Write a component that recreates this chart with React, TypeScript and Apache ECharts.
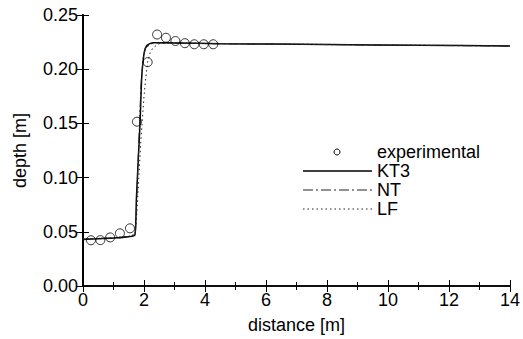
import React, { useEffect, useRef } from "react";
import * as echarts from "echarts";

const expX = [0.26, 0.57, 0.89, 1.21, 1.54, 1.77, 2.12, 2.43, 2.72, 3.03, 3.34, 3.65, 3.96, 4.27];
const expY = [0.0422, 0.0423, 0.0448, 0.0486, 0.0532, 0.1516, 0.2065, 0.232, 0.229, 0.226, 0.224, 0.223, 0.223, 0.223];

const kt3X = [0, 0.5, 1.0, 1.5, 1.7, 1.75, 1.8, 1.87, 1.92, 1.96, 2.02, 2.1, 2.3, 3, 4.5, 8, 11, 14];
const kt3Y = [0.043, 0.0435, 0.0442, 0.0455, 0.047, 0.08, 0.11, 0.15, 0.19, 0.205, 0.217, 0.222, 0.2245, 0.2242, 0.2235, 0.2228, 0.222, 0.2215];

const ntX = [0, 0.5, 1.0, 1.5, 1.72, 1.8, 1.9, 1.97, 2.05, 2.3, 3, 4.5, 8, 11, 14];
const ntY = [0.0432, 0.0437, 0.0444, 0.0457, 0.048, 0.11, 0.185, 0.21, 0.22, 0.2243, 0.2241, 0.2234, 0.2227, 0.2219, 0.2214];

const lfX = [0, 0.5, 1.0, 1.5, 1.7, 1.75, 1.8, 1.85, 1.9, 1.95, 2.0, 2.05, 2.12, 2.2, 2.3, 2.5, 3, 4.5, 8, 11, 14];
const lfY = [0.0434, 0.0439, 0.0446, 0.0459, 0.047, 0.06, 0.085, 0.11, 0.135, 0.155, 0.175, 0.19, 0.207, 0.215, 0.22, 0.2235, 0.2242, 0.2236, 0.2229, 0.2221, 0.2216];

const legendNames = ["experimental", "KT3", "NT", "LF"];

const zip = (xs: number[], ys: number[]) => xs.map((x, i) => [x, ys[i]]);

const FONT = "Liberation Sans";

export default function App() {
  const ref = useRef<HTMLDivElement>(null);
  useEffect(() => {
    if (!ref.current) return;
    const chart = echarts.init(ref.current, undefined, { renderer: "svg" });
    const axisLine = { show: true, lineStyle: { color: "#000", width: 1.5 } };
    const legX0 = 303;
    const legX1 = 372;
    const legTextX = 377;
    const legYs = [152, 171, 190, 209];
    chart.setOption({
      animation: false,
      backgroundColor: "#fff",
      grid: { left: 83, right: 11, top: 15, bottom: 53, containLabel: false },
      xAxis: [
        {
          type: "value",
          min: 0,
          max: 14,
          interval: 2,
          position: "bottom",
          name: "distance [m]",
          nameLocation: "middle",
          nameGap: 30,
          nameTextStyle: { fontFamily: FONT, fontSize: 18, color: "#000" },
          axisLine,
          axisTick: { show: true, inside: true, length: 6, lineStyle: { color: "#000", width: 1 } },
          minorTick: { show: true, splitNumber: 2, length: 4, lineStyle: { color: "#000", width: 1 } },
          axisLabel: { fontFamily: FONT, fontSize: 18, color: "#000", margin: 5 },
          splitLine: { show: false },
        },
        {
          type: "value",
          min: 0,
          max: 14,
          interval: 2,
          position: "top",
          axisLine,
          axisTick: { show: true, inside: true, length: 6, lineStyle: { color: "#000", width: 1 } },
          minorTick: { show: true, splitNumber: 2, length: 4, lineStyle: { color: "#000", width: 1 } },
          axisLabel: { show: false },
          splitLine: { show: false },
        },
      ],
      yAxis: [
        {
          type: "value",
          min: 0,
          max: 0.25,
          interval: 0.05,
          position: "left",
          name: "depth [m]",
          nameLocation: "middle",
          nameGap: 54,
          nameTextStyle: { fontFamily: FONT, fontSize: 18, color: "#000" },
          axisLine,
          axisTick: { show: true, inside: true, length: 6, lineStyle: { color: "#000", width: 1 } },
          axisLabel: {
            fontFamily: FONT,
            fontSize: 18,
            color: "#000",
            margin: 5,
            formatter: (v: number) => v.toFixed(2),
          },
          splitLine: { show: false },
        },
        {
          type: "value",
          min: 0,
          max: 0.25,
          interval: 0.05,
          position: "right",
          axisLine: { show: true, lineStyle: { color: "#000", width: 2 } },
          axisTick: { show: true, inside: true, length: 6, lineStyle: { color: "#000", width: 1 } },
          axisLabel: { show: false },
          splitLine: { show: false },
        },
      ],
      series: [
        {
          name: legendNames[0],
          type: "scatter",
          data: zip(expX, expY),
          symbol: "circle",
          symbolSize: 9,
          itemStyle: { color: "rgba(255,255,255,0)", borderColor: "#000", borderWidth: 1 },
          z: 5,
        },
        {
          name: legendNames[1],
          type: "line",
          data: zip(kt3X, kt3Y),
          showSymbol: false,
          symbol: "none",
          smooth: 0.2,
          lineStyle: { color: "#000", width: 1.5, type: "solid" },
        },
        {
          name: legendNames[2],
          type: "line",
          data: zip(ntX, ntY),
          showSymbol: false,
          symbol: "none",
          lineStyle: { color: "#222", width: 1, type: [10, 3, 2, 3] },
        },
        {
          name: legendNames[3],
          type: "line",
          data: zip(lfX, lfY),
          showSymbol: false,
          symbol: "none",
          lineStyle: { color: "#222", width: 1, type: [1.5, 3] },
        },
      ],
      graphic: [
        {
          type: "circle",
          shape: { cx: 337, cy: legYs[0], r: 3 },
          style: { fill: "none", stroke: "#000", lineWidth: 1 },
        },
        {
          type: "line",
          shape: { x1: legX0, y1: legYs[1], x2: legX1, y2: legYs[1] },
          style: { stroke: "#000", lineWidth: 1.5 },
        },
        {
          type: "line",
          shape: { x1: legX0, y1: legYs[2], x2: legX1, y2: legYs[2] },
          style: { stroke: "#222", lineWidth: 1, lineDash: [10, 3, 2, 3] },
        },
        {
          type: "line",
          shape: { x1: legX0, y1: legYs[3], x2: legX1, y2: legYs[3] },
          style: { stroke: "#222", lineWidth: 1, lineDash: [1.5, 3] },
        },
        ...legendNames.map((n, i) => ({
          type: "text",
          x: legTextX,
          y: legYs[i],
          style: {
            text: n,
            fontFamily: FONT,
            fontSize: 18,
            lineHeight: 16,
            fill: "#000",
            verticalAlign: "middle",
          },
        })),
      ],
    });
    return () => chart.dispose();
  }, []);
  return <div ref={ref} style={{ width: 523, height: 339, position: "absolute", left: 0, top: 0 }} />;
}
